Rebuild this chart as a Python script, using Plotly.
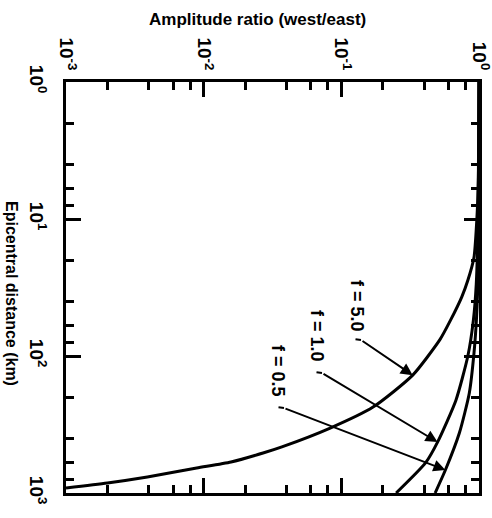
import math
import plotly.graph_objects as go

# ---- data ----
distance_f5 = [1, 5, 10, 19, 28, 37, 55, 76, 138, 236, 336, 461, 511, 594, 657, 764, 845, 918]
ratio_f5 = [1.0, 0.99, 0.965, 0.92, 0.83, 0.75, 0.62, 0.52, 0.33, 0.17, 0.083, 0.037,
            0.027, 0.0158, 0.0089, 0.0039, 0.0020, 0.001]

distance_f1 = [1, 10, 30, 55, 100, 210, 425, 600, 1000]
ratio_f1 = [1.0, 0.985, 0.955, 0.91, 0.83, 0.68, 0.50, 0.41, 0.25]

distance_f05 = [1, 10, 30, 52, 95, 187, 365, 680, 1000]
ratio_f05 = [1.0, 0.995, 0.98, 0.96, 0.92, 0.85, 0.72, 0.57, 0.48]

series_names = ["f = 5.0", "f = 1.0", "f = 0.5"]
ratio_ticks = [0.001, 0.01, 0.1, 1]
ratio_ticktext = ["10<sup>-3</sup>", "10<sup>-2</sup>", "10<sup>-1</sup>", "10<sup>0</sup>"]
distance_ticks = [1, 10, 100, 1000]
distance_ticktext = ["10<sup>0</sup>", "10<sup>1</sup>", "10<sup>2</sup>", "10<sup>3</sup>"]
minor_ratio = [m * 10 ** e for e in (-3, -2, -1) for m in (2, 4, 6, 8)]
minor_distance = [m * 10 ** e for e in (0, 1, 2) for m in (2, 4, 6, 8)]

# arrow targets (indices into each series)
arrow_idx = [8, 6, 7]

FONT = "Liberation Sans"
fig = go.Figure()
all_series = [(distance_f5, ratio_f5), (distance_f1, ratio_f1), (distance_f05, ratio_f05)]
for name, (d, r) in zip(series_names, all_series):
    fig.add_trace(go.Scatter(x=r, y=d, mode="lines", name=name,
                             line=dict(color="black", width=3, shape="spline", smoothing=0.6),
                             showlegend=False, hoverinfo="skip"))

# plot frame in screen pixels (page body margin removed below)
L, R, T, B = 66, 479, 82, 493
W, H = 492, 518


def px(xp):
    return (xp - L) / (R - L)


def py(yp):
    return (B - yp) / (B - T)


axis_common = dict(type="log", showgrid=False, zeroline=False, showline=True,
                   linecolor="black", linewidth=3, mirror="ticks", automargin=False,
                   ticks="inside", ticklen=15, tickwidth=3, tickcolor="black",
                   tickangle=90, ticklabeloverflow="allow",
                   tickfont=dict(family=FONT, size=19, color="black", weight="bold"),
                   minor=dict(ticks="inside", ticklen=8, tickwidth=3, tickcolor="black"))

fig.update_layout(
    width=W, height=H,
    margin=dict(l=L, r=W - R, t=T, b=H - B),
    paper_bgcolor="white", plot_bgcolor="white",
    xaxis=dict(**axis_common, side="top", range=[-3, 0], ticklabelstandoff=2,
               tickvals=ratio_ticks, ticktext=ratio_ticktext),
    yaxis=dict(**axis_common, range=[3, 0], ticklabelstandoff=10,
               tickvals=distance_ticks, ticktext=distance_ticktext),
)
fig.update_xaxes(minor_tickvals=minor_ratio)
fig.update_yaxes(minor_tickvals=minor_distance)

ann = []
# axis titles
ann.append(dict(text="Amplitude ratio (west/east)", xref="paper", yref="paper",
                x=px(257), y=py(20), xanchor="center", yanchor="middle", showarrow=False,
                font=dict(family=FONT, size=17, color="black", weight="bold")))
ann.append(dict(text="Epicentral distance (km)", xref="paper", yref="paper",
                x=px(12), y=py(293), xanchor="center", yanchor="middle", showarrow=False,
                textangle=90,
                font=dict(family=FONT, size=16, color="black", weight="bold")))

# curve labels (center pixel), hook start, arrow tail offsets
label_pos = [(357, 306), (317, 336), (278, 371)]
tails = [(361, 340), (322, 373), (284, 408)]
hooks = [(354, 339), (315, 372), (277, 407)]
for name, (d, r), i, (lx, ly), (tx, ty), (hx, hy) in zip(series_names, all_series, arrow_idx,
                                                         label_pos, tails, hooks):
    ann.append(dict(text=name, xref="paper", yref="paper", x=px(lx), y=py(ly),
                    xanchor="center", yanchor="middle",
                    showarrow=False, textangle=90,
                    font=dict(family=FONT, size=18, color="black", weight="bold")))
    tipx = math.log10(r[i])
    tipy = math.log10(d[i])
    # pixel of the tip
    tip_px = L + (tipx + 3) / 3 * (R - L)
    tip_py = T + tipy / 3 * (B - T)
    ann.append(dict(text="", xref="x", yref="y", x=tipx, y=tipy,
                    ax=tx - tip_px, ay=ty - tip_py, showarrow=True,
                    arrowhead=2, arrowsize=1.2, arrowwidth=2, arrowcolor="black"))
    ann.append(dict(text="", xref="paper", yref="paper", x=px(tx), y=py(ty),
                    ax=hx - tx, ay=hy - ty, showarrow=True,
                    arrowhead=0, arrowwidth=2, arrowcolor="black"))

fig.update_layout(annotations=ann)
fig.write_html("out.html", config={"displayModeBar": False},
               post_script="document.body.style.margin='0px';document.body.style.overflow='hidden';")
